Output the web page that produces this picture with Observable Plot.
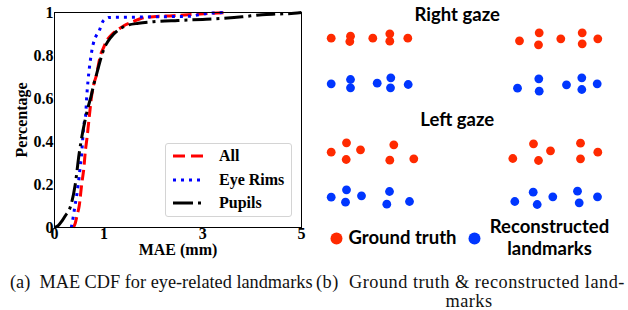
<!DOCTYPE html>
<html><head><meta charset="utf-8">
<script src="https://cdn.jsdelivr.net/npm/d3@7"></script>
<script src="https://cdn.jsdelivr.net/npm/@observablehq/plot@0.6"></script>
<style>
body{margin:0;background:#fff;}
#wrap{position:relative;width:628px;height:310px;overflow:hidden;background:#fff;}
#left{position:absolute;left:0;top:0;}
#right{position:absolute;left:310px;top:0;}
.legend{position:absolute;left:165px;top:143px;width:127px;height:74px;border:1px solid #d4d4d4;border-radius:3px;background:#fff;box-sizing:border-box;font:bold 16px "Liberation Serif";color:#000;}
.legend .row{position:absolute;left:6px;height:20px;display:flex;align-items:center;}
.legend svg{width:32px;height:10px;margin-right:15px;}
.cap{position:absolute;font:18.3px "Liberation Serif";line-height:19px;color:#111;white-space:nowrap;}
</style></head><body>
<div id="wrap">
  <div id="left"></div>
  <div class="legend" id="legend"></div>
  <div id="right"></div>
  <div class="cap" style="left:10px;top:273px;">(a)&nbsp; MAE CDF for eye-related landmarks</div>
  <div class="cap" style="left:316px;top:273px;width:306px;text-align:center;letter-spacing:0.5px;">(b)&nbsp; Ground truth &amp; reconstructed land-<br>marks</div>
</div>
<script>
// ---- Left panel: MAE CDF ----
const seriesNames = ["All", "Eye Rims", "Pupils"];
const xTicks = [0, 1, 3, 5];
const yTicks = [0, 0.2, 0.4, 0.6, 0.8, 1];

const allX = [0.38,0.42,0.46,0.5,0.55,0.6,0.62,0.66,0.69,0.72,0.75,0.8,0.85,0.9,0.93,1.0,1.05,1.15,1.23,1.35,1.44,1.6,1.75,2.0,2.4,2.7,3.1,3.5];
const allY = [0,0.02,0.06,0.1,0.2,0.29,0.345,0.42,0.485,0.55,0.61,0.67,0.71,0.77,0.8,0.84,0.866,0.895,0.912,0.93,0.943,0.958,0.972,0.98,0.985,0.99,0.995,1.0];

const rimX = [0.34,0.38,0.41,0.45,0.48,0.52,0.55,0.58,0.6,0.63,0.65,0.68,0.71,0.74,0.78,0.84,0.9,0.97,1.05,1.1,1.5,2.0,2.7,3.1,3.5];
const rimY = [0,0.05,0.095,0.15,0.2,0.28,0.345,0.44,0.485,0.52,0.6,0.686,0.75,0.8,0.85,0.89,0.912,0.955,0.972,0.977,0.978,0.98,0.982,0.996,1.0];

const pupX = [0,0.08,0.15,0.22,0.32,0.42,0.5,0.56,0.62,0.68,0.74,0.8,0.86,0.93,1.0,1.08,1.2,1.35,1.47,1.7,2.0,2.5,3.0,3.4,3.8,4.2,4.5,4.85,5.0];
const pupY = [0,0.01,0.03,0.055,0.095,0.2,0.345,0.43,0.5,0.56,0.61,0.67,0.72,0.78,0.83,0.865,0.9,0.928,0.94,0.95,0.957,0.963,0.968,0.973,0.98,0.99,0.993,0.996,1.0];

const seriesColors = ["#ff0000", "#0000ff", "#000000"];
const seriesDash = ["11,5", "3,5", "19,5,3,5"];

// ---- Right panel: landmarks (panel-local units) ----
const rightTruthX = [20.7,40,39.3,62.3,79.3,79.3,97.3,209,228.7,228,250.3,271.7,271.7,287.3];
const rightTruthY = [37.7,35.7,41,37.7,33.3,40.7,37.7,40.3,32.3,44.3,38.3,32.3,43.3,38.3];
const rightReconX = [20.7,40,40,66.7,80.3,80,97.7,207,228.3,228.7,256,271.3,271.3,286.7];
const rightReconY = [83.3,79,87.3,82.7,77.3,87.3,84,87.7,78.3,90.7,84.3,77.3,89,83.3];
const leftTruthX = [20.7,36,35.7,50,83.3,79.3,103.3,202.3,223,228,240,270,270,287.3];
const leftTruthY = [151.7,142.3,159,149.3,144.3,159.7,158.3,158,143.3,160,150.3,142.7,158.3,151.7];
const leftReconX = [20.7,36,35,51,79,76.3,99,204.3,222.7,226.7,242.3,267,268.7,287];
const leftReconY = [196.7,189.3,201.7,195.3,191,203.7,201,201,191.7,204,196.3,190.7,202.3,196.3];
const panelTitles = ["Right gaze", "Left gaze"];
const legendLabels = ["Ground truth", "Reconstructed\nlandmarks"];
const truthColor = "#ff2a00";
const reconColor = "#0036ff";

const toRows = (xs, ys) => xs.map((x, i) => ({x, y: ys[i]}));
const curves = [toRows(allX, allY), toRows(rimX, rimY), toRows(pupX, pupY)];

const left = Plot.plot({
  width: 310, height: 250,
  marginLeft: 54, marginRight: 9, marginTop: 12, marginBottom: 23,
  x: {domain: [0, 5]},
  y: {domain: [0, 1]},
  style: {fontFamily: "Liberation Serif", fontSize: "16px", fontWeight: "bold", color: "#000", background: "transparent", overflow: "visible"},
  marks: [
    ...curves.map((d, i) => Plot.line(d, {x: "x", y: "y", stroke: seriesColors[i], strokeWidth: 3, strokeDasharray: seriesDash[i], strokeLinecap: "butt", curve: "monotone-x"})),
    Plot.frame({stroke: "#000", strokeWidth: 1}),
    Plot.axisX({ticks: xTicks, tickSize: 0, tickPadding: 0, tickFormat: d => String(d), label: "MAE (mm)", labelAnchor: "center", labelOffset: 27, labelArrow: "none"}),
    Plot.axisY({ticks: yTicks, tickSize: 0, tickPadding: 1, tickFormat: d => String(d), label: "Percentage", labelAnchor: "center", labelOffset: 39, labelArrow: "none"})
  ]
});
document.getElementById("left").appendChild(left);

// legend for left panel
const lg = document.getElementById("legend");
seriesNames.forEach((name, i) => {
  const row = document.createElement("div");
  row.className = "row";
  row.style.top = (2 + i * 23.5) + "px";
  row.innerHTML = `<svg viewBox="0 0 32 10"><line x1="1" x2="31" y1="5" y2="5" stroke="${seriesColors[i]}" stroke-width="3" stroke-dasharray="${i===0?'12,6':i===1?'3,5':'20,5,3,5'}"/></svg><span>${name}</span>`;
  lg.appendChild(row);
});

const right = Plot.plot({
  width: 318, height: 260, margin: 0,
  x: {domain: [0, 318], axis: null},
  y: {domain: [0, 260], reverse: true, axis: null},
  style: {background: "transparent", overflow: "visible"},
  marks: [
    Plot.dot(toRows(rightTruthX, rightTruthY), {x: "x", y: "y", r: 4.4, fill: truthColor}),
    Plot.dot(toRows(rightReconX, rightReconY), {x: "x", y: "y", r: 4.4, fill: reconColor}),
    Plot.dot(toRows(leftTruthX, leftTruthY), {x: "x", y: "y", r: 4.4, fill: truthColor}),
    Plot.dot(toRows(leftReconX, leftReconY), {x: "x", y: "y", r: 4.4, fill: reconColor}),
    Plot.text(panelTitles.map((t, i) => ({t, x: 146.7, y: [15, 120][i]})), {x: "x", y: "y", text: "t", fontFamily: "Lato", fontWeight: "bold", fontSize: 18.5, fill: "#000"}),
    Plot.dot([{x: 26, y: 238, c: truthColor}, {x: 164, y: 238, c: reconColor}], {x: "x", y: "y", r: 6, fill: "c"}),
    Plot.text([{x: 38, y: 238, t: legendLabels[0]}], {x: "x", y: "y", text: "t", textAnchor: "start", fontFamily: "Lato", fontWeight: "bold", fontSize: 18.5, fill: "#000"}),
    Plot.text([{x: 239, y: 236, t: legendLabels[1]}], {x: "x", y: "y", text: "t", textAnchor: "middle", lineHeight: 1.2, fontFamily: "Lato", fontWeight: "bold", fontSize: 18.5, fill: "#000"})
  ]
});
document.getElementById("right").appendChild(right);
</script>
</body></html>
